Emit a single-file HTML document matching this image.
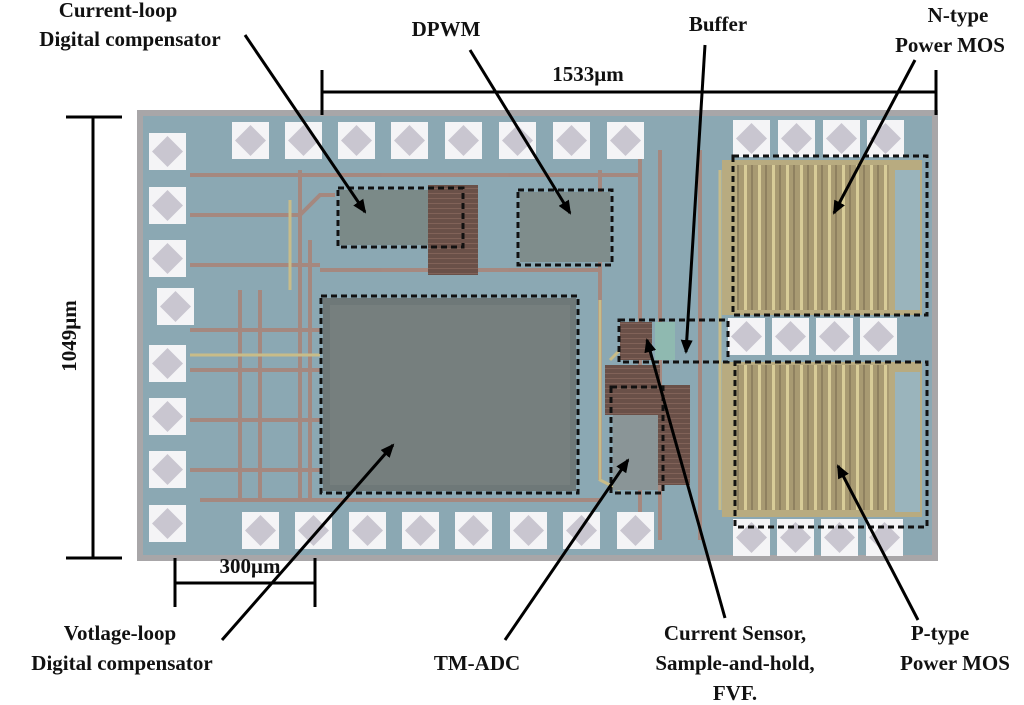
<!DOCTYPE html>
<html><head><meta charset="utf-8"><style>
html,body{margin:0;padding:0;background:#fff;width:1024px;height:705px;overflow:hidden}
svg text{font-family:"Liberation Serif",serif;font-weight:bold;font-size:21px;fill:#111}
</style></head><body>
<svg width="1024" height="705" viewBox="0 0 1024 705" xmlns="http://www.w3.org/2000/svg">
<defs>
<g id="pad"><rect width="37" height="37" fill="#f4f4f6"/><polygon points="18.5,3 34,18.5 18.5,34 3,18.5" fill="#c9c6d0"/></g>
<marker id="ah" markerWidth="14" markerHeight="12" refX="12" refY="6" orient="auto" markerUnits="userSpaceOnUse"><polygon points="0,0 14,6 0,12" fill="#000"/></marker>
<pattern id="stripes" width="14" height="10" patternUnits="userSpaceOnUse"><rect width="14" height="10" fill="#a89a72"/><rect x="2" width="3" height="10" fill="#d8cc98"/><rect x="9" width="2" height="10" fill="#8f8160"/></pattern>
<pattern id="hl" width="6" height="5" patternUnits="userSpaceOnUse"><rect width="6" height="5" fill="#6a5048"/><rect y="3" width="6" height="1" fill="#816258"/></pattern>
</defs>
<rect x="140" y="113" width="795" height="445" fill="#8ba8b3"/>
<rect x="140" y="113" width="795" height="445" fill="none" stroke="#a8a6a8" stroke-width="6"/>
<g stroke="#a8857a" stroke-width="4" fill="none" opacity="0.9">
<path d="M190 175 H640"/><path d="M190 215 H300 L320 195 H335"/><path d="M190 265 H320"/><path d="M190 330 H320"/>
<path d="M190 370 H320"/><path d="M190 420 H320"/><path d="M190 470 H320"/><path d="M200 500 H600"/>
<path d="M300 170 V500"/><path d="M310 240 V500"/><path d="M600 170 V480"/><path d="M640 150 V540"/>
<path d="M660 150 V540"/><path d="M700 150 V540"/><path d="M320 270 H600"/><path d="M240 290 V500"/><path d="M260 290 V500"/>
</g>
<g stroke="#c8bc88" stroke-width="3" fill="none">
<path d="M190 355 H320"/><path d="M290 200 V290"/><path d="M475 190 V240"/><path d="M600 300 V480 L620 490"/><path d="M610 360 L620 350"/>
<path d="M720 170 V510"/>
</g>
<rect x="340" y="190" width="90" height="55" fill="#7b8a88"/>
<rect x="428" y="185" width="50" height="90" fill="url(#hl)"/>
<rect x="520" y="192" width="90" height="70" fill="#7f8d8c"/>
<rect x="323" y="298" width="253" height="193" fill="#6e7878"/>
<rect x="330" y="305" width="240" height="180" fill="#767f7e"/>
<rect x="620" y="322" width="32" height="38" fill="url(#hl)"/>
<rect x="655" y="322" width="20" height="38" fill="#8fb9b0"/>
<rect x="605" y="365" width="55" height="50" fill="url(#hl)"/>
<rect x="655" y="385" width="35" height="100" fill="url(#hl)"/>
<rect x="613" y="415" width="45" height="75" fill="#8a9597"/>
<rect x="722" y="160" width="200" height="155" fill="#b8ab80"/>
<rect x="737" y="165" width="152" height="145" fill="url(#stripes)"/>
<rect x="722" y="362" width="200" height="155" fill="#b8ab80"/>
<rect x="737" y="365" width="152" height="145" fill="url(#stripes)"/>
<rect x="895" y="170" width="25" height="140" fill="#9ab4bc"/>
<rect x="895" y="372" width="25" height="140" fill="#9ab4bc"/>
<g>
<use href="#pad" x="232" y="122"/><use href="#pad" x="285" y="122"/><use href="#pad" x="338" y="122"/><use href="#pad" x="391" y="122"/>
<use href="#pad" x="445" y="122"/><use href="#pad" x="499" y="122"/><use href="#pad" x="553" y="122"/><use href="#pad" x="607" y="122"/>
<use href="#pad" x="149" y="133"/><use href="#pad" x="149" y="187"/><use href="#pad" x="149" y="240"/><use href="#pad" x="157" y="288"/>
<use href="#pad" x="149" y="345"/><use href="#pad" x="149" y="398"/><use href="#pad" x="149" y="451"/><use href="#pad" x="149" y="505"/>
<use href="#pad" x="242" y="512"/><use href="#pad" x="295" y="512"/><use href="#pad" x="349" y="512"/><use href="#pad" x="402" y="512"/>
<use href="#pad" x="455" y="512"/><use href="#pad" x="510" y="512"/><use href="#pad" x="563" y="512"/><use href="#pad" x="617" y="512"/>
<use href="#pad" x="733" y="120"/><use href="#pad" x="778" y="120"/><use href="#pad" x="823" y="120"/><use href="#pad" x="867" y="120"/>
<use href="#pad" x="728" y="318"/><use href="#pad" x="772" y="318"/><use href="#pad" x="816" y="318"/><use href="#pad" x="860" y="318"/>
<use href="#pad" x="733" y="519"/><use href="#pad" x="777" y="519"/><use href="#pad" x="821" y="519"/><use href="#pad" x="866" y="519"/>
</g>
<g fill="none" stroke="#111" stroke-width="3" stroke-dasharray="6,4">
<rect x="338" y="188" width="125" height="59"/>
<rect x="518" y="190" width="94" height="75"/>
<rect x="321" y="296" width="257" height="197"/>
<rect x="619" y="320" width="109" height="42"/>
<rect x="611" y="387" width="52" height="106"/>
<rect x="733" y="156" width="194" height="159"/>
<rect x="735" y="362" width="192" height="165"/>
</g>
<g stroke="#000" stroke-width="3" marker-end="url(#ah)">
<line x1="245" y1="35" x2="365" y2="212"/>
<line x1="470" y1="50" x2="570" y2="213"/>
<line x1="705" y1="45" x2="686" y2="352"/>
<line x1="915" y1="60" x2="834" y2="213"/>
<line x1="222" y1="640" x2="393" y2="445"/>
<line x1="505" y1="640" x2="628" y2="460"/>
<line x1="725" y1="618" x2="647" y2="340"/>
<line x1="918" y1="620" x2="838" y2="466"/>
</g>
<g stroke="#000" stroke-width="3">
<line x1="322" y1="92" x2="936" y2="92"/><line x1="322" y1="70" x2="322" y2="115"/><line x1="936" y1="70" x2="936" y2="115"/>
<line x1="93" y1="117" x2="93" y2="558"/><line x1="66" y1="117" x2="122" y2="117"/><line x1="66" y1="558" x2="122" y2="558"/>
<line x1="175" y1="583" x2="315" y2="583"/><line x1="175" y1="558" x2="175" y2="607"/><line x1="315" y1="558" x2="315" y2="607"/>
</g>
<g text-anchor="middle">
<text x="118" y="17">Current-loop</text>
<text x="130" y="46">Digital compensator</text>
<text x="446" y="36">DPWM</text>
<text x="718" y="31">Buffer</text>
<text x="958" y="22">N-type</text>
<text x="950" y="52">Power MOS</text>
<text x="588" y="81">1533μm</text>
<text x="250" y="573">300μm</text>
<text transform="translate(76,336) rotate(-90)">1049μm</text>
<text x="120" y="640">Votlage-loop</text>
<text x="122" y="670">Digital compensator</text>
<text x="477" y="670">TM-ADC</text>
<text x="735" y="640">Current Sensor,</text>
<text x="735" y="670">Sample-and-hold,</text>
<text x="735" y="700">FVF.</text>
<text x="940" y="640">P-type</text>
<text x="955" y="670">Power MOS</text>
</g>
</svg>
</body></html>
